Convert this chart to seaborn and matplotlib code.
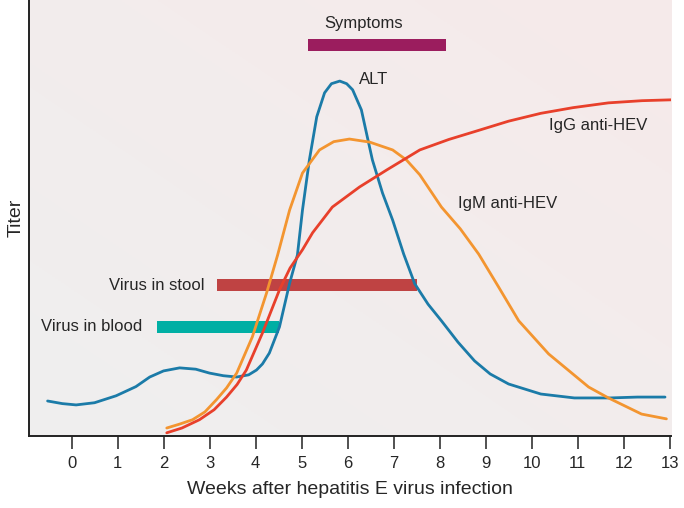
import numpy as np
import pandas as pd
import matplotlib
matplotlib.use("Agg")
import matplotlib.pyplot as plt
from matplotlib.colors import to_rgb
import seaborn as sns

# Curve values (weeks, relative titer 0-100)
alt_weeks = [-0.52, -0.2, 0.1, 0.5, 0.97, 1.4, 1.7, 2.0, 2.35, 2.7, 3.0, 3.3, 3.59,
             3.85, 4.02, 4.15, 4.3, 4.52, 4.74, 4.91, 5.02, 5.17, 5.33, 5.5, 5.65,
             5.83, 5.98, 6.11, 6.3, 6.41, 6.54, 6.76, 6.98, 7.22, 7.46, 7.75, 8.04,
             8.4, 8.76, 9.1, 9.5, 10.2, 10.93, 11.7, 12.3, 12.9]
alt_titer = [8.0, 7.4, 7.1, 7.6, 9.2, 11.3, 13.5, 14.9, 15.6, 15.3, 14.4, 13.8, 13.5,
             14.0, 15.1, 16.5, 19.0, 25.0, 35.0, 41.5, 51.8, 63.3, 73.2, 78.7, 80.8,
             81.4, 80.8, 79.4, 74.8, 69.5, 63.3, 55.7, 49.5, 41.7, 34.9, 30.2, 26.4,
             21.5, 17.2, 14.2, 11.9, 9.6, 8.7, 8.7, 8.9, 8.9]

igm_weeks = [2.07, 2.35, 2.63, 2.9, 3.15, 3.37, 3.59, 3.93, 4.24, 4.48, 4.74, 5.02,
             5.39, 5.7, 6.04, 6.48, 6.98, 7.28, 7.57, 8.04, 8.45, 8.85, 9.28, 9.72,
             10.37, 11.24, 11.67, 12.39, 12.93]
igm_titer = [1.8, 2.7, 3.7, 5.5, 8.3, 11.0, 14.4, 22.7, 32.8, 41.5, 51.8, 60.3,
             65.6, 67.5, 68.1, 67.4, 65.6, 63.3, 59.9, 52.5, 47.5, 41.7, 34.2, 26.4,
             18.8, 11.2, 8.7, 5.0, 3.9]

igg_weeks = [2.07, 2.4, 2.78, 3.1, 3.37, 3.6, 3.8, 4.15, 4.52, 4.75, 5.02, 5.24,
             5.67, 6.26, 6.85, 7.57, 8.2, 8.76, 9.5, 10.2, 10.9, 11.67, 12.4, 13.04]
igg_titer = [0.7, 1.8, 3.7, 6.0, 8.9, 11.8, 15.1, 23.6, 33.5, 38.5, 42.7, 46.6,
             52.5, 57.1, 61.0, 65.6, 68.0, 69.8, 72.2, 74.0, 75.3, 76.4, 76.9, 77.1]

# Duration bars: label, start week, end week, level
bar_labels = ["Symptoms", "Virus in stool", "Virus in blood"]
bar_start = [5.15, 3.17, 1.85]
bar_end = [8.15, 7.5, 4.5]
bar_level = [89.7, 34.6, 25.0]

week_ticks = list(range(0, 14))

colors = {"ALT": "#1B7BA8", "IgM anti-HEV": "#F39530", "IgG anti-HEV": "#E8402B"}
bar_colors = ["#9B1D5E", "#BF4343", "#00AFA4"]

curves = pd.concat([
    pd.DataFrame({"week": alt_weeks, "titer": alt_titer, "marker": "ALT"}),
    pd.DataFrame({"week": igm_weeks, "titer": igm_titer, "marker": "IgM anti-HEV"}),
    pd.DataFrame({"week": igg_weeks, "titer": igg_titer, "marker": "IgG anti-HEV"}),
], ignore_index=True)

sns.set_theme(style="white")
plt.rcParams["font.family"] = ["Liberation Sans", "DejaVu Sans"]

fig = plt.figure(figsize=(6.84, 5.08), dpi=100)
ax = fig.add_axes([0.042, 0.142, 0.939, 0.858])

x_min, x_max = -0.93, 13.03
y_min, y_max = 0, 100

# soft diagonal background wash
c0 = np.array(to_rgb("#EFEFEF"))
c1 = np.array(to_rgb("#F6EAEA"))
gx, gy = np.meshgrid(np.linspace(0, 1, 200), np.linspace(0, 1, 200))
t = ((gx + gy) / 2)[..., None]
ax.imshow(c0 * (1 - t) + c1 * t, extent=[x_min, x_max, y_min, y_max],
          origin="lower", aspect="auto", zorder=0)

ax.barh(bar_level, [e - s for s, e in zip(bar_start, bar_end)], left=bar_start,
        height=2.9, color=bar_colors, linewidth=0, edgecolor="none", zorder=2)

sns.lineplot(data=curves, x="week", y="titer", hue="marker", palette=colors,
             estimator=None, sort=False, units="marker", linewidth=2.0,
             legend=False, ax=ax, zorder=3)
for line in ax.get_lines():
    line.set_solid_joinstyle("round")
    line.set_solid_capstyle("round")

fs = 12
ax.text(6.35, 94.7, "Symptoms", fontsize=fs, ha="center", va="center")
ax.text(6.24, 81.7, "ALT", fontsize=fs, ha="left", va="center")
ax.text(10.38, 71.3, "IgG anti-HEV", fontsize=fs, ha="left", va="center")
ax.text(8.41, 53.4, "IgM anti-HEV", fontsize=fs, ha="left", va="center")
ax.text(2.89, 34.6, "Virus in stool", fontsize=fs, ha="right", va="center")
ax.text(1.54, 25.0, "Virus in blood", fontsize=fs, ha="right", va="center")

ax.set_xlim(x_min, x_max)
ax.set_ylim(y_min, y_max)
ax.set_xticks(week_ticks)
ax.set_xticklabels([str(w) for w in week_ticks])
ax.set_yticks([])
ax.tick_params(axis="x", direction="out", length=9.5, width=1.1, color="#222222",
               labelsize=12, pad=5, bottom=True)
ax.set_xlabel("Weeks after hepatitis E virus infection", fontsize=14, labelpad=7)
ax.set_ylabel("Titer", fontsize=14, labelpad=3)

for side in ["top", "right"]:
    ax.spines[side].set_visible(False)
for side in ["left", "bottom"]:
    ax.spines[side].set_color("#222222")
    ax.spines[side].set_linewidth(1.4)

fig.savefig("out.png", dpi=100)
